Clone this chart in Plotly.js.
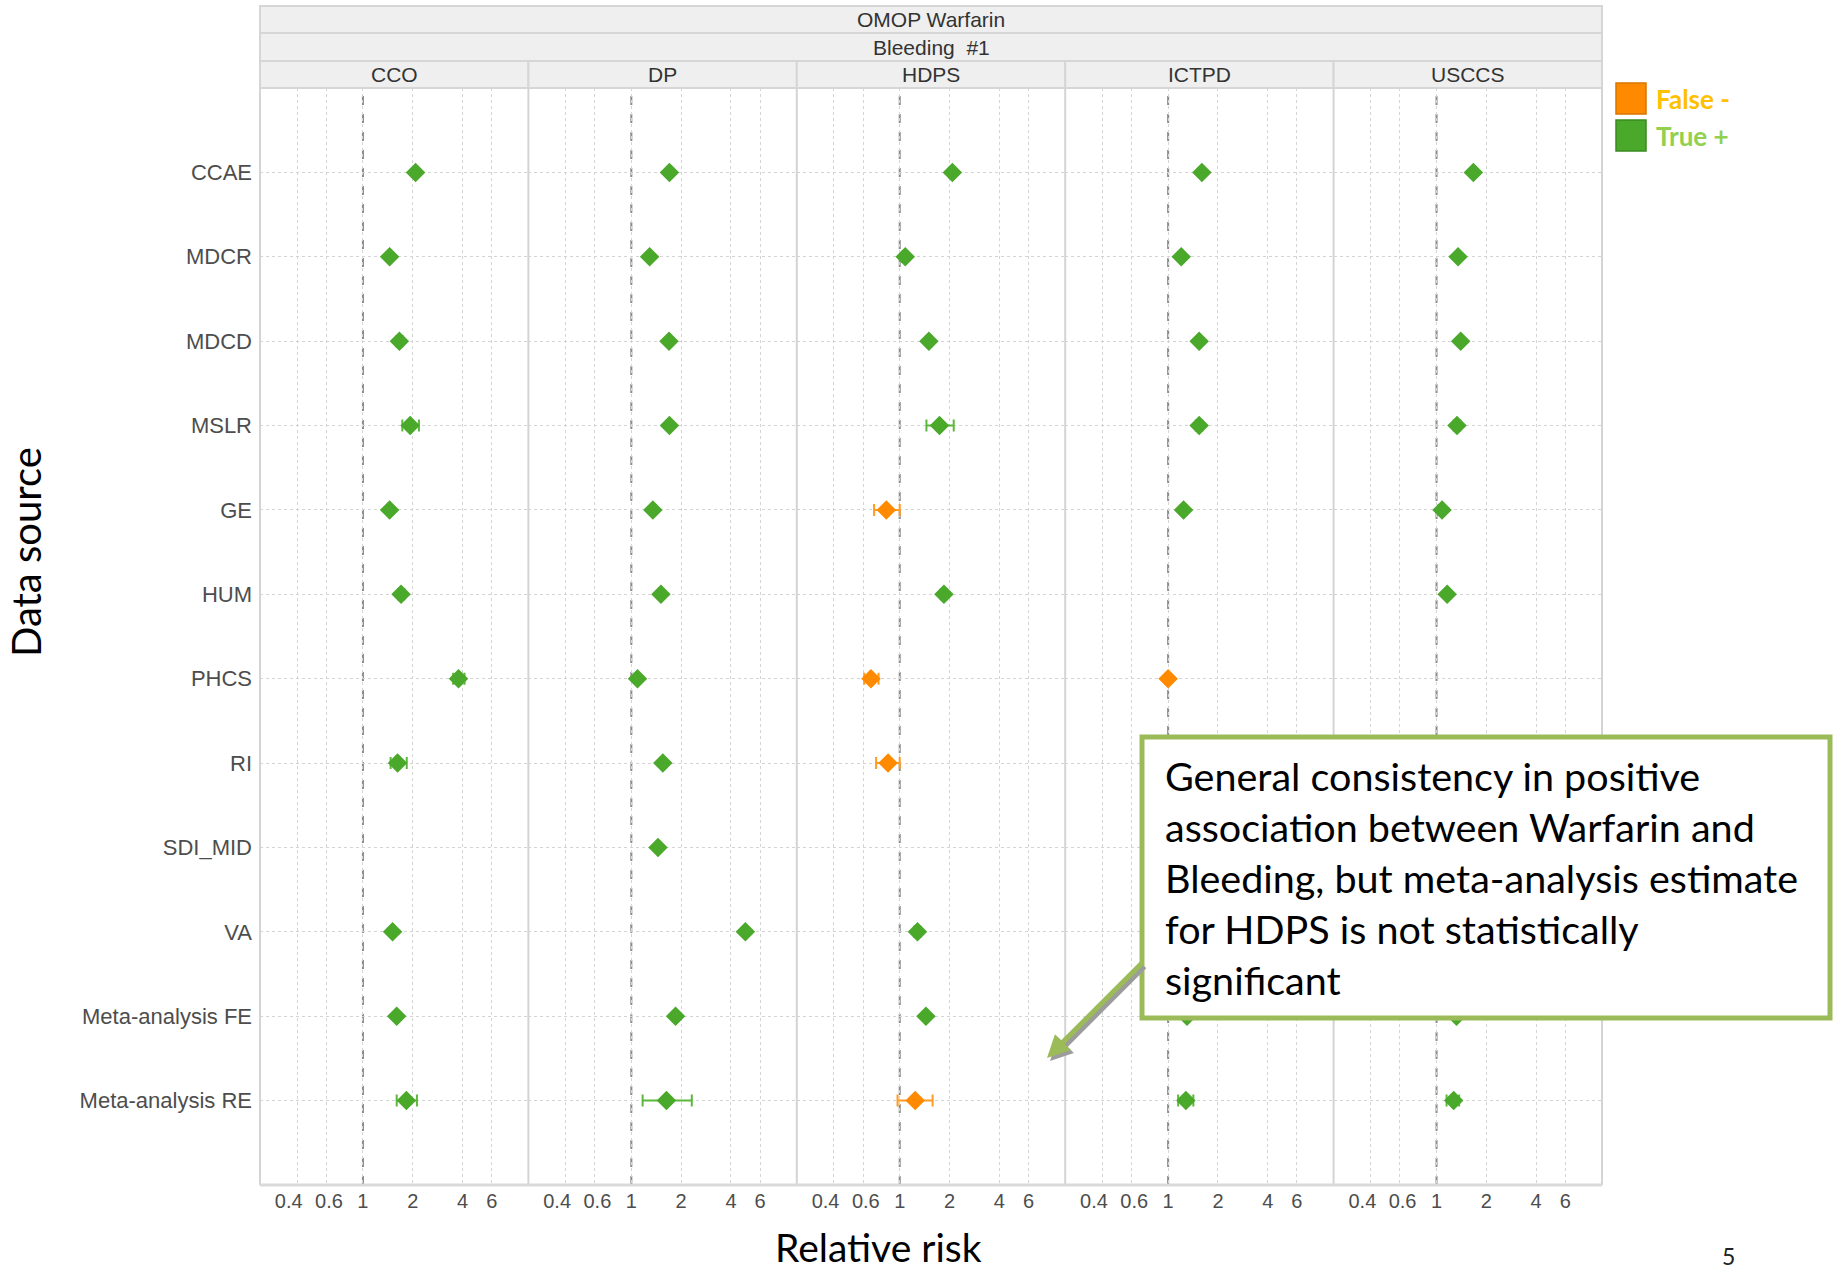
<!DOCTYPE html>
<html>
<head>
<meta charset="utf-8">
<script src="https://cdn.plot.ly/plotly-3.0.1.min.js"></script>
<style>
  html, body { margin: 0; padding: 0; background: #ffffff; }
  #chart { width: 1840px; height: 1274px; }
</style>
</head>
<body>
<div id="chart"></div>
<script>
// ---- Data: relative risk estimates with 95% CI per method and data source ----
const sources = ['CCAE', 'MDCR', 'MDCD', 'MSLR', 'GE', 'HUM', 'PHCS', 'RI', 'SDI_MID', 'VA',
                 'Meta-analysis FE', 'Meta-analysis RE'];
const methods = ['CCO', 'DP', 'HDPS', 'ICTPD', 'USCCS'];
const tickValues = [0.4, 0.6, 1, 2, 4, 6];
// the two sub-unity labels are nudged apart with non-breaking spaces so they do not collide
const tickLabels = ['0.4\u00a0\u00a0\u00a0', '\u00a00.6', '1', '2', '4', '6'];

const ccoRR = [2.08, 1.45, 1.66, 1.93, 1.45, 1.70, 3.78, 1.62, null, 1.51, 1.60, 1.83];
const ccoLo = [2.03, 1.42, 1.59, 1.73, 1.42, 1.63, 3.51, 1.47, null, 1.48, 1.57, 1.60];
const ccoHi = [2.13, 1.48, 1.74, 2.18, 1.48, 1.78, 4.11, 1.84, null, 1.54, 1.63, 2.12];
const ccoStatus = ['T', 'T', 'T', 'T', 'T', 'T', 'T', 'T', null, 'T', 'T', 'T'];

const dpRR = [1.70, 1.29, 1.69, 1.70, 1.35, 1.51, 1.09, 1.55, 1.45, 4.89, 1.85, 1.63];
const dpLo = [1.67, 1.27, 1.66, 1.67, 1.33, 1.48, 1.07, 1.52, 1.42, 4.80, 1.82, 1.17];
const dpHi = [1.73, 1.31, 1.72, 1.73, 1.37, 1.54, 1.11, 1.58, 1.48, 4.98, 1.88, 2.32];
const dpStatus = ['T', 'T', 'T', 'T', 'T', 'T', 'T', 'T', 'T', 'T', 'T', 'T'];

const hdpsRR = [2.08, 1.08, 1.50, 1.74, 0.83, 1.85, 0.67, 0.85, null, 1.28, 1.44, 1.24];
const hdpsLo = [2.00, 1.03, 1.44, 1.45, 0.70, 1.77, 0.61, 0.72, null, 1.22, 1.41, 0.97];
const hdpsHi = [2.16, 1.12, 1.56, 2.12, 1.00, 1.93, 0.745, 1.00, null, 1.34, 1.47, 1.58];
const hdpsStatus = ['T', 'T', 'T', 'T', 'F', 'T', 'F', 'F', null, 'T', 'T', 'F'];

const ictpdRR = [1.60, 1.20, 1.54, 1.54, 1.24, null, 1.00, null, null, null, 1.30, 1.28];
const ictpdLo = [1.57, 1.17, 1.51, 1.47, 1.19, null, 0.96, null, null, null, 1.27, 1.15];
const ictpdHi = [1.63, 1.23, 1.57, 1.61, 1.29, null, 1.04, null, null, null, 1.33, 1.42];
const ictpdStatus = ['T', 'T', 'T', 'T', 'T', null, 'F', null, null, null, 'T', 'T'];

const usccsRR = [1.67, 1.35, 1.40, 1.33, 1.08, 1.16, null, null, null, null, 1.32, 1.27];
const usccsLo = [1.64, 1.32, 1.37, 1.27, 1.03, 1.13, null, null, null, null, 1.29, 1.15];
const usccsHi = [1.70, 1.38, 1.43, 1.39, 1.12, 1.19, null, null, null, null, 1.35, 1.37];
const usccsStatus = ['T', 'T', 'T', 'T', 'T', 'T', null, null, null, null, 'T', 'T'];

const statusNames = { F: 'False -', T: 'True +' };
const noteLines = ['General consistency in positive',
                   'association between Warfarin and',
                   'Bleeding, but meta-analysis estimate',
                   'for HDPS is not statistically',
                   'significant'];

// ---- Styling ----
const COLORS = {
  F: { mark: '#ff8a00', bar: '#ff9a22', legend: '#ffc000', edge: '#d97500' },
  T: { mark: '#4aa82a', bar: '#5cb83b', legend: '#92d050', edge: '#3a8a1f' }
};
const CHART_FONT = 'Liberation Sans, Arial, sans-serif';
const NOTE_FONT = 'Lato, Open Sans, sans-serif';

// plot area in page pixels, used to place decorations in paper units
const L = 260, R = 1602, T = 88, B = 1185;
const W = R - L, H = B - T;
const px = v => (v - L) / W;
const py = v => (B - v) / H;

const panelData = [
  [ccoRR, ccoLo, ccoHi, ccoStatus],
  [dpRR, dpLo, dpHi, dpStatus],
  [hdpsRR, hdpsLo, hdpsHi, hdpsStatus],
  [ictpdRR, ictpdLo, ictpdHi, ictpdStatus],
  [usccsRR, usccsLo, usccsHi, usccsStatus]
];

const traces = [];
panelData.forEach(([rr, lo, hi, st], p) => {
  ['T', 'F'].forEach(cls => {
    const x = [], y = [], plus = [], minus = [];
    rr.forEach((v, i) => {
      if (v === null || st[i] !== cls) return;
      x.push(v); y.push(sources[i]);
      plus.push(hi[i] - v); minus.push(v - lo[i]);
    });
    if (!x.length) return;
    traces.push({
      type: 'scatter', mode: 'markers',
      name: statusNames[cls], showlegend: false,
      x: x, y: y,
      xaxis: p === 0 ? 'x' : 'x' + (p + 1), yaxis: 'y',
      marker: { symbol: 'diamond', size: 15, color: COLORS[cls].mark, line: { width: 0 } },
      error_x: { type: 'data', symmetric: false, array: plus, arrayminus: minus,
                 color: COLORS[cls].bar, thickness: 2, width: 6 },
      hoverinfo: 'x+y'
    });
  });
});

const layout = {
  width: 1840, height: 1274,
  margin: { l: L, r: 1840 - R, t: T, b: 1274 - B },
  paper_bgcolor: '#ffffff', plot_bgcolor: '#ffffff',
  showlegend: false,
  font: { family: CHART_FONT, color: '#4d4d4d' },
  yaxis: {
    type: 'category', categoryorder: 'array', categoryarray: sources,
    range: [sources.length, -1],
    showgrid: true, gridcolor: '#d4d4d4', griddash: 'dot', gridwidth: 1,
    zeroline: false, showline: false, ticks: '',
    tickfont: { family: CHART_FONT, size: 22, color: '#4d4d4d' },
    ticklabelstandoff: 7,
    fixedrange: true
  },
  shapes: [],
  annotations: []
};

methods.forEach((m, p) => {
  const key = p === 0 ? 'xaxis' : 'xaxis' + (p + 1);
  layout[key] = {
    domain: [p / methods.length, (p + 1) / methods.length],
    type: 'log', range: [-0.622, 1.0],
    tickmode: 'array', tickvals: tickValues, ticktext: tickLabels,
    tickangle: 0, ticklabelstandoff: 2,
    showgrid: true, gridcolor: '#d4d4d4', griddash: 'dot', gridwidth: 1,
    zeroline: false, showline: false, ticks: '',
    tickfont: { family: CHART_FONT, size: 20, color: '#4d4d4d' },
    anchor: 'y', fixedrange: true
  };
  // reference line at relative risk = 1
  layout.shapes.push({
    type: 'line', xref: p === 0 ? 'x' : 'x' + (p + 1), yref: 'paper',
    x0: 1, x1: 1, y0: 0, y1: 1, layer: 'between',
    line: { color: '#8a8a8a', width: 2, dash: 'dash' }
  });
});

// facet strips
const stripFill = '#efefef', stripLine = '#d6d6d6';
function strip(x0, x1, top, bottom, label) {
  layout.shapes.push({
    type: 'rect', xref: 'paper', yref: 'paper',
    x0: x0, x1: x1, y0: py(bottom), y1: py(top),
    fillcolor: stripFill, line: { color: stripLine, width: 2 }, layer: 'above'
  });
  layout.annotations.push({
    xref: 'paper', yref: 'paper', x: (x0 + x1) / 2, y: py((top + bottom) / 2),
    text: label, showarrow: false, xanchor: 'center', yanchor: 'middle',
    font: { family: CHART_FONT, size: 21, color: '#333333' }
  });
}
strip(0, 1, 6, 33, 'OMOP Warfarin');
strip(0, 1, 33, 61, 'Bleeding  #1');
methods.forEach((m, p) => strip(p / methods.length, (p + 1) / methods.length, 61, T, m));

// panel borders and bottom axis line
for (let p = 0; p <= methods.length; p++) {
  layout.shapes.push({
    type: 'line', xref: 'paper', yref: 'paper',
    x0: p / methods.length, x1: p / methods.length, y0: 0, y1: 1,
    line: { color: '#d4d4d4', width: 2 }, layer: 'above'
  });
}
layout.shapes.push({
  type: 'line', xref: 'paper', yref: 'paper', x0: 0, x1: 1, y0: 0, y1: 0,
  line: { color: '#d9d9d9', width: 3 }, layer: 'above'
});

// legend
const legendRows = [['F', 83, 114], ['T', 120, 151]];
legendRows.forEach(([cls, top, bottom]) => {
  layout.shapes.push({
    type: 'rect', xref: 'paper', yref: 'paper',
    x0: px(1616), x1: px(1646), y0: py(bottom), y1: py(top),
    fillcolor: COLORS[cls].mark, line: { color: COLORS[cls].edge, width: 1.5 }
  });
  layout.annotations.push({
    xref: 'paper', yref: 'paper', x: px(1654), y: py((top + bottom) / 2),
    text: '<b>' + statusNames[cls] + '</b>', showarrow: false,
    xanchor: 'left', yanchor: 'middle',
    font: { family: NOTE_FONT, size: 26, color: COLORS[cls].legend }
  });
});

// callout box with arrow
layout.shapes.push({
  type: 'rect', xref: 'paper', yref: 'paper',
  x0: px(1142), x1: px(1830), y0: py(1018), y1: py(737),
  fillcolor: '#ffffff', line: { color: '#9bbb59', width: 5 }, layer: 'above'
});
noteLines.forEach((line, i) => {
  layout.annotations.push({
    xref: 'paper', yref: 'paper', x: px(1163), y: py(775 + i * 51.2),
    text: line, showarrow: false, xanchor: 'left', yanchor: 'middle',
    font: { family: NOTE_FONT, size: 39.5, color: '#000000' }
  });
});
[['#9c9c9c', 3], ['#9bbb59', 0]].forEach(([col, off]) => {
  layout.annotations.push({
    xref: 'paper', yref: 'paper', x: px(1047 + off), y: py(1058 + off),
    axref: 'pixel', ayref: 'pixel', ax: 96, ay: -96,
    text: '', showarrow: true, arrowhead: 2, arrowsize: 0.9, arrowwidth: 5,
    arrowcolor: col, standoff: 0, startstandoff: 0
  });
});

// axis titles and page number
layout.annotations.push({
  xref: 'paper', yref: 'paper', x: px(878), y: py(1247),
  text: 'Relative risk', showarrow: false, xanchor: 'center', yanchor: 'middle',
  font: { family: NOTE_FONT, size: 39, color: '#000000' }
});
layout.annotations.push({
  xref: 'paper', yref: 'paper', x: px(26), y: py(552),
  text: 'Data source', showarrow: false, textangle: -90,
  xanchor: 'center', yanchor: 'middle',
  font: { family: NOTE_FONT, size: 40, color: '#000000' }
});
layout.annotations.push({
  xref: 'paper', yref: 'paper', x: px(1728), y: py(1256),
  text: '5', showarrow: false, xanchor: 'center', yanchor: 'middle',
  font: { family: NOTE_FONT, size: 23, color: '#222222' }
});

Plotly.newPlot('chart', traces, layout, { displayModeBar: false, staticPlot: true });
</script>
</body>
</html>
